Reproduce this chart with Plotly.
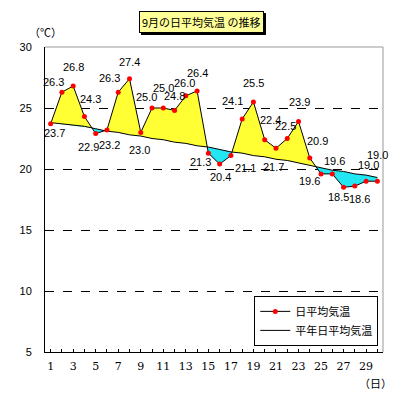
import plotly.graph_objects as go

# ---- data ----
days = list(range(1, 31))
daily_mean = [23.7, 26.3, 26.8, 24.3, 22.9, 23.2, 26.3, 27.4, 23.0, 25.0,
              25.0, 24.8, 26.0, 26.4, 21.3, 20.4, 21.1, 24.1, 25.5, 22.4,
              21.7, 22.5, 23.9, 20.9, 19.6, 19.6, 18.5, 18.6, 19.0, 19.0]
normal_mean = [23.8, 23.7, 23.6, 23.5, 23.3, 23.1, 23.0, 22.8, 22.7, 22.5,
               22.4, 22.2, 22.1, 21.9, 21.8, 21.6, 21.4, 21.3, 21.1, 21.0,
               20.8, 20.7, 20.5, 20.3, 20.1, 19.9, 19.8, 19.6, 19.5, 19.3]
x_tick_vals = list(range(1, 31))
x_tick_text = [str(d) if d % 2 == 1 else "" for d in days]
y_tick_vals = [5, 10, 15, 20, 25, 30]

# label offsets (pixels) for each data label: (dx, dy-down)
label_dx = [4, -8, 0, 6, -7, 3, -9, 0, -1, -6, 0, 0, -1, 0, -8, 1, 15, -10, 0, 6,
            -2, -2, 1, 8, -12, 2, -5, 5, 2, 0]
label_dy = [9, -10, -19, -18, 13, 15, -14, -17, 18, -11, -20, -14, -13, -18, 9, 13, 12, -18, -19, -20,
            19, -13, -19, -17, 7, -13, 10, 13, -16, -26]

# ---- build fill polygons (above / below normal) ----
xs, ys_hi, ys_lo, ys_n = [], [], [], []
for i in range(len(days)):
    a, n = daily_mean[i], normal_mean[i]
    xs.append(days[i]); ys_n.append(n); ys_hi.append(max(a, n)); ys_lo.append(min(a, n))
    if i < len(days) - 1:
        d0 = a - n
        d1 = daily_mean[i + 1] - normal_mean[i + 1]
        if d0 * d1 < 0:
            t = d0 / (d0 - d1)
            xc = days[i] + t * (days[i + 1] - days[i])
            yc = n + t * (normal_mean[i + 1] - n)
            xs.append(xc); ys_n.append(yc); ys_hi.append(yc); ys_lo.append(yc)

YELLOW = "#ffff33"
CYAN = "#22e6f2"
NUMFONT = "Liberation Sans, Arial, sans-serif"
JPFONT = "Noto Sans CJK JP, sans-serif"

fig = go.Figure()
fig.add_trace(go.Scatter(x=xs, y=ys_n, mode="lines", line=dict(width=0),
                         showlegend=False, hoverinfo="skip"))
fig.add_trace(go.Scatter(x=xs, y=ys_hi, mode="lines", line=dict(width=0),
                         fill="tonexty", fillcolor=YELLOW, showlegend=False, hoverinfo="skip"))
fig.add_trace(go.Scatter(x=xs, y=ys_lo, mode="lines", line=dict(width=0),
                         showlegend=False, hoverinfo="skip"))
fig.add_trace(go.Scatter(x=xs, y=ys_n, mode="lines", line=dict(width=0),
                         fill="tonexty", fillcolor=CYAN, showlegend=False, hoverinfo="skip"))
fig.add_trace(go.Scatter(x=days, y=normal_mean, mode="lines", name="平年日平均気温",
                         line=dict(color="black", width=1), legendrank=2))
fig.add_trace(go.Scatter(x=days, y=daily_mean, mode="lines+markers", name="日平均気温",
                         line=dict(color="black", width=1),
                         marker=dict(color="red", size=5), legendrank=1))

annotations = []
for d, v, dx, dy in zip(days, daily_mean, label_dx, label_dy):
    annotations.append(dict(x=d, y=v, xref="x", yref="y", text=f"{v:.1f}",
                            showarrow=False, xshift=dx, yshift=-dy,
                            font=dict(family=NUMFONT, size=11, color="black")))

title_text = "9月の日平均気温 の推移"
# shadow
annotations.append(dict(x=0.462, y=1.082, xref="paper", yref="paper", text=title_text,
                        showarrow=False, xshift=2, yshift=-2, bgcolor="black",
                        xanchor="center", yanchor="middle",
                        bordercolor="black", borderwidth=1, borderpad=2,
                        font=dict(family=JPFONT, size=11, color="black")))
annotations.append(dict(x=0.462, y=1.082, xref="paper", yref="paper", text=title_text,
                        showarrow=False, bgcolor="#ffff99",
                        xanchor="center", yanchor="middle",
                        bordercolor="black", borderwidth=1, borderpad=2,
                        font=dict(family=JPFONT, size=11, color="black")))
annotations.append(dict(x=0.0, y=1.049, xref="paper", yref="paper", text="（℃）",
                        showarrow=False, xanchor="center", yanchor="middle",
                        font=dict(family=JPFONT, size=11, color="black")))
annotations.append(dict(x=0.977, y=-0.102, xref="paper", yref="paper", text="（日）",
                        showarrow=False, xanchor="center", yanchor="middle",
                        font=dict(family=JPFONT, size=11, color="black")))

fig.update_layout(
    width=391, height=392,
    margin=dict(l=30, r=16, t=39, b=48),
    paper_bgcolor="white", plot_bgcolor="white",
    annotations=annotations,
    showlegend=True,
    legend=dict(x=0.986, y=0.184, xanchor="right", yanchor="top",
                bgcolor="white", bordercolor="black", borderwidth=1,
                font=dict(family=JPFONT, size=11, color="black"),
                itemwidth=30, tracegroupgap=0, traceorder="normal"),
    xaxis=dict(range=[0.5, 30.5], tickmode="array", tickvals=x_tick_vals, ticktext=x_tick_text,
               ticks="inside", ticklen=3, tickcolor="black", showgrid=False,
               showline=True, linecolor="black", linewidth=1, zeroline=False,
               ticklabelstandoff=4,
               tickfont=dict(family="DejaVu Serif, serif", size=11, color="black")),
    yaxis=dict(range=[5, 30], tickmode="array", tickvals=y_tick_vals,
               ticks="", showgrid=True, gridcolor="black", griddash="dash", gridwidth=1,
               showline=True, linecolor="black", linewidth=1, zeroline=False,
               ticklabelstandoff=10,
               tickfont=dict(family=NUMFONT, size=11, color="black")),
    shapes=[
        dict(type="line", xref="paper", yref="paper", x0=0, x1=1, y0=1, y1=1,
             line=dict(color="#999999", width=1), layer="above"),
        dict(type="line", xref="paper", yref="paper", x0=1, x1=1, y0=0, y1=1,
             line=dict(color="#999999", width=1), layer="above"),
    ],
)

fig.write_html("out.html")
